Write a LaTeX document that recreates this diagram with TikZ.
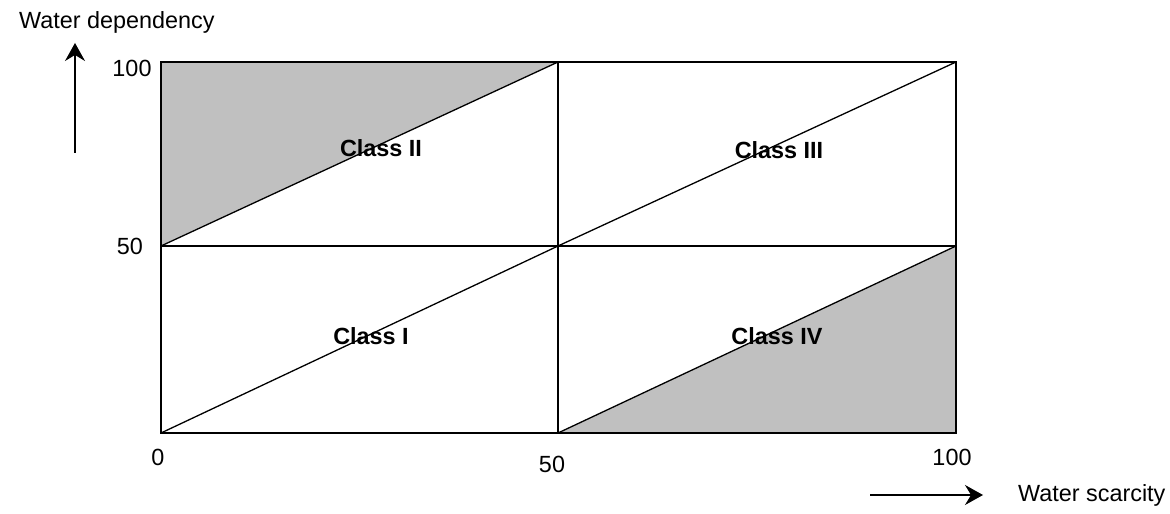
\documentclass[tikz,border=0pt]{standalone}
\usepackage{fontspec}
\setmainfont{Liberation Sans}
\definecolor{ClassGray}{HTML}{C0C0C0}
\usetikzlibrary{arrows.meta, positioning}

\begin{document}
\begin{tikzpicture}[>={Stealth[length=9pt, width=10pt, inset=3pt]}, x=0.5pt, y=0.5pt,
    grid/.style={line width=1pt},
    diag/.style={line width=0.65pt},
    axisarrow/.style={->, line width=0.6pt},
    axislabel/.style={font=\fontsize{11.7}{14}\selectfont},
    classlabel/.style={font=\fontsize{11.7}{14}\selectfont\bfseries}]
  \useasboundingbox (0,0) rectangle (1170,513);
  % Corners of the grid
  \coordinate (bl) at (161,80);
  \coordinate (bm) at (558,80);
  \coordinate (br) at (956,80);
  \coordinate (ml) at (161,267);
  \coordinate (mm) at (558,267);
  \coordinate (mr) at (956,267);
  \coordinate (tl) at (161,451);
  \coordinate (tm) at (558,451);
  \coordinate (tr) at (956,451);

  % Shaded triangles
  \fill[ClassGray] (ml) -- (tl) -- (tm) -- cycle;
  \fill[ClassGray] (bm) -- (br) -- (mr) -- cycle;

  % Diagonals
  \draw[diag] (bl) -- (mm);
  \draw[diag] (ml) -- (tm);
  \draw[diag] (bm) -- (mr);
  \draw[diag] (mm) -- (tr);

  % Grid
  \draw[grid] (bl) rectangle (tr);
  \draw[grid] (bm) -- (tm);
  \draw[grid] (ml) -- (mr);

  % Class labels
  \node[classlabel] (c1) at (371,177) {Class I};
  \node[classlabel] (c2) at (381,365) {Class II};
  \node[classlabel] (c3) at (779,363) {Class III};
  \node[classlabel] (c4) at (777,177) {Class IV};

  % Tick values
  \node[axislabel] (y100) at (132,445) {100};
  \node[axislabel] (y50) at (130,267) {50};
  \node[axislabel] (x0) at (158,56) {0};
  \node[axislabel] (x50) at (552,49) {50};
  \node[axislabel] (x100) at (952,56) {100};

  % Axis arrows
  \coordinate (ys) at (75,360);
  \coordinate (ye) at (75,470);
  \draw[axisarrow] (ys) -- (ye);
  \node[axislabel, anchor=base west] (ylab) at (12,484) {Water dependency};

  \coordinate (xs) at (870,18);
  \coordinate (xe) at (983,18);
  \draw[axisarrow] (xs) -- (xe);
  \node[axislabel, anchor=west] (xlab) at (1011,18) {Water scarcity};
\end{tikzpicture}
\end{document}
